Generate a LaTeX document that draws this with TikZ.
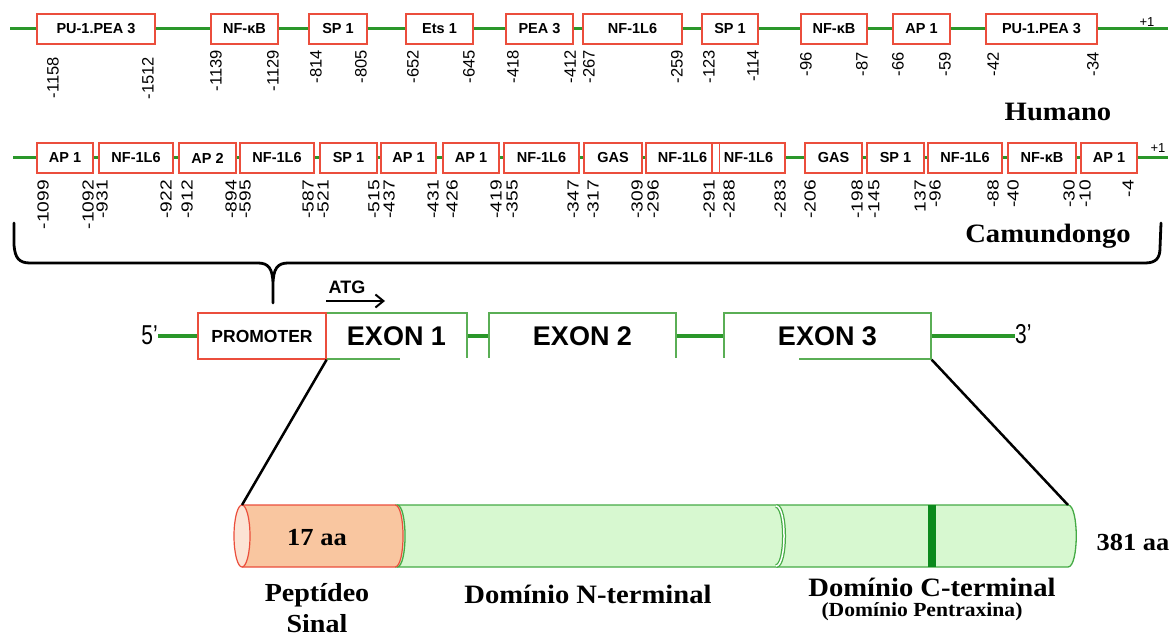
\documentclass[tikz,border=0pt]{standalone}
\usepackage{fontspec}
\usepackage{graphicx}
\setmainfont{Liberation Serif}[FakeStretch=1.08]
\newfontfamily\arial{Liberation Sans}
\usetikzlibrary{arrows.meta}
\definecolor{boxred}{HTML}{EB4E3C}
\definecolor{dnagreen}{HTML}{2A972A}
\definecolor{exgreen}{HTML}{5AAE55}
\definecolor{peach}{HTML}{F9C6A0}
\definecolor{peachlight}{HTML}{FCE3D4}
\definecolor{palegreen}{HTML}{D7F8D0}
\definecolor{protgreen}{HTML}{45AA45}
\definecolor{bandgreen}{HTML}{0B8A1C}
\newcommand\mkbox[5]{\node[tf, minimum width={(#4-#3)*1pt}] (#1) at ({(#3+#4)/2},#2) {#5};}
\begin{document}
\begin{tikzpicture}[x=1pt,y=-1pt,
  tf/.style={draw=boxred, line width=1.3pt, fill=white, minimum height=30pt, inner sep=0pt,
             font=\arial\bfseries\fontsize{14.5}{16}\selectfont},
  numtxt/.style={rotate=90, anchor=east, inner sep=0pt, font=\arial\fontsize{16.5}{18}\selectfont},
  dna/.style={draw=dnagreen, line width=3pt},
  gbox/.style={draw=exgreen, line width=1.3pt, fill=white, minimum height=46pt, inner sep=0pt,
             font=\arial\bfseries\fontsize{27}{30}\selectfont},
  lab/.style={inner sep=0pt, font=\bfseries\fontsize{26.5}{35}\selectfont},
  small/.style={inner sep=0pt, font=\arial\fontsize{13}{15}\selectfont}
]
\useasboundingbox (0,0) rectangle (1170,636);

% ---------------- Human promoter ----------------
\coordinate (hL) at (10,29);
\coordinate (hR) at (1168,29);
\mkbox{h1}{29}{37}{155}{PU-1.PEA 3}
\mkbox{h2}{29}{211}{278}{NF-κB}
\mkbox{h3}{29}{309}{367}{SP 1}
\mkbox{h4}{29}{406}{473}{Ets 1}
\mkbox{h5}{29}{506}{573}{PEA 3}
\mkbox{h6}{29}{583}{682}{NF-1L6}
\mkbox{h7}{29}{702}{758}{SP 1}
\mkbox{h8}{29}{801}{867}{NF-κB}
\mkbox{h9}{29}{893}{950}{AP 1}
\mkbox{h10}{29}{986}{1097}{PU-1.PEA 3}
\draw[dna] (hL) -- (h1.west);
\foreach \i [evaluate=\i as \j using int(\i+1)] in {1,...,9} {\draw[dna] (h\i.east) -- (h\j.west);}
\draw[dna] (h10.east) -- (hR);
\node[small] (hp1) at (1147,22) {+1};
\foreach \x/\y/\t [count=\k] in {53/57/-1158,148/57/-1512,216/50/-1139,273/50/-1129,316/50/-814,361/50/-805,
  413/50/-652,469/50/-645,513/50/-418,570/50/-412,589/50/-267,677/50/-259,709/50/-123,753/50/-114,
  806/52/-96,862/52/-87,898/52/-66,945/52/-59,993/52/-42,1093/52/-34}
  {\node[numtxt] (hn\k) at (\x,\y) {\t};}
\node[lab, anchor=base] (hum) at (1058,121) {Humano};

% ---------------- Mouse promoter ----------------
\coordinate (mL) at (13,158);
\coordinate (mR) at (1168,158);
\mkbox{m1}{158}{37}{93}{AP 1}
\mkbox{m2}{158}{99}{173}{NF-1L6}
\mkbox{m3}{158}{179}{236}{AP 2}
\mkbox{m4}{158}{240}{314}{NF-1L6}
\mkbox{m5}{158}{320}{377}{SP 1}
\mkbox{m6}{158}{381}{436}{AP 1}
\mkbox{m7}{158}{443}{499}{AP 1}
\mkbox{m8}{158}{504}{579}{NF-1L6}
\mkbox{m9}{158}{584}{642}{GAS}
\mkbox{m10}{158}{646}{719}{NF-1L6}
\mkbox{m11}{158}{712}{785}{NF-1L6}
\draw[boxred, line width=1.3pt] (m10.north east) -- (m10.south east);
\mkbox{m12}{158}{805}{862}{GAS}
\mkbox{m13}{158}{867}{924}{SP 1}
\mkbox{m14}{158}{928}{1002}{NF-1L6}
\mkbox{m15}{158}{1008}{1076}{NF-κB}
\mkbox{m16}{158}{1081}{1137}{AP 1}
\draw[dna] (mL) -- (m1.west);
\foreach \i [evaluate=\i as \j using int(\i+1)] in {1,...,9,11,12,13,14,15} {\draw[dna] (m\i.east) -- (m\j.west);}
\draw[dna] (m16.east) -- (mR);
\node[small] (mp1) at (1158,148) {+1};
\foreach \x/\t [count=\k] in {43/-1099,88/-1092,102/-931,166/-922,187/-912,231/-894,245/-595,308/-587,
  323/-521,374/-515,389/-437,433/-431,452/-426,496/-419,512/-355,573/-347,593/-317,637/-309,653/-296,
  709/-291,729/-288,780/-283,810/-206,857/-198,874/-145,920/137,935/-96,993/-88,1013/-40,1069/-30,
  1085/-10,1128/-4}
  {\node[numtxt, font=\arial\fontsize{16}{18}\selectfont] (mn\k) at (\x,180) {\scalebox{1.2}[1]{\t}};}
\node[lab, anchor=base] (cam) at (1048,243) {Camundongo};

% ---------------- Brace ----------------
\coordinate (btip) at (273,303);
\draw[line width=2.8pt, line cap=round, line join=round]
  (14,223) -- (14,245) .. controls (15,258) and (19,263) .. (30,263) -- (258,263)
  .. controls (268,263) and (273,268) .. (273,285) -- (btip) -- (273,285)
  .. controls (273,268) and (278,263) .. (288,263) -- (1145,263)
  .. controls (1156,263) and (1160,258) .. (1160,248) -- (1161,223);

% ---------------- Gene ----------------
\node[gbox, minimum width=141pt] (ex1) at (396.5,336) {EXON 1};
\node[gbox, draw=boxred, minimum width=128pt, font=\arial\bfseries\fontsize{17.5}{20}\selectfont] (prom) at (262,336) {PROMOTER};
\node[gbox, minimum width=187pt] (ex2) at (582.5,336) {EXON 2};
\node[gbox, minimum width=207pt] (ex3) at (827.5,336) {EXON 3};
\fill[white] (400,357.5) rectangle (799,364);
\node[inner sep=0pt, anchor=east, font=\arial\fontsize{21}{24}\selectfont] (p5) at (158,335) {\scalebox{1}[1.3]{5’}};
\node[inner sep=0pt, anchor=west, font=\arial\fontsize{21}{24}\selectfont] (p3) at (1015,334) {\scalebox{1}[1.3]{3’}};
\draw[dna] (p5.east |- prom.west) -- (prom.west);
\draw[dna] (ex1.east) -- (ex2.west);
\draw[dna] (ex2.east) -- (ex3.west);
\draw[dna] (ex3.east) -- (ex3.east -| p3.west);
\node[inner sep=0pt, font=\arial\bfseries\fontsize{18}{20}\selectfont] (atg) at (347,287) {ATG};
\coordinate (atgA) at (326,301);
\coordinate (atgB) at (385,301);
\draw[line width=2pt, -{Straight Barb[length=8pt,width=13pt]}] (atgA) -- (atgB);

% ---------------- Protein ----------------
\coordinate (pl) at (242,505);
\coordinate (pr) at (1068,505);
\fill[palegreen] (395,505) -- (pr) .. controls (1079,505) and (1079,567) .. (1068,567) -- (395,567) -- cycle;
\draw[protgreen, line width=1.3pt] (395,505) -- (pr) .. controls (1079,505) and (1079,567) .. (1068,567) -- (395,567);
\fill[bandgreen] (928,505) rectangle (936,567);
\draw[protgreen, line width=4pt] (776,506) .. controls (786.7,506) and (786.7,566) .. (776,566);
\draw[white, line width=1.5pt] (776,506) .. controls (786.7,506) and (786.7,566) .. (776,566);
\draw[protgreen, line width=1.3pt] (397,505) .. controls (407.7,505) and (407.7,567) .. (397,567);
\fill[peach] (pl) -- (395,505) .. controls (405.7,505) and (405.7,567) .. (395,567) -- (242,567) -- cycle;
\draw[boxred, line width=1.2pt] (pl) -- (395,505) .. controls (405.7,505) and (405.7,567) .. (395,567) -- (242,567);
\draw[boxred, fill=peachlight, line width=1.2pt] (242,536) ellipse [x radius=8pt, y radius=31pt];
\draw[line width=2.5pt] (prom.south east) -- (pl);
\draw[line width=2.5pt] (ex3.south east) -- (pr);

\node[lab, anchor=base, font=\bfseries\fontsize{24.5}{28}\selectfont] (aa17) at (317,545) {17 aa};
\node[lab, anchor=base, font=\bfseries\fontsize{24.5}{28}\selectfont] (aa381) at (1133,550) {381 aa};
\node[lab, anchor=north, align=center, font=\bfseries\fontsize{26}{31}\selectfont] (pep) at (317,583) {Peptídeo\\Sinal};
\node[lab, anchor=base] (ndom) at (588,603) {Domínio N-terminal};
\node[lab, anchor=base] (cdom) at (932,596) {Domínio C-terminal};
\node[lab, anchor=base, font=\bfseries\fontsize{20}{22}\selectfont] (pent) at (922,616) {(Domínio Pentraxina)};
\end{tikzpicture}
\end{document}
